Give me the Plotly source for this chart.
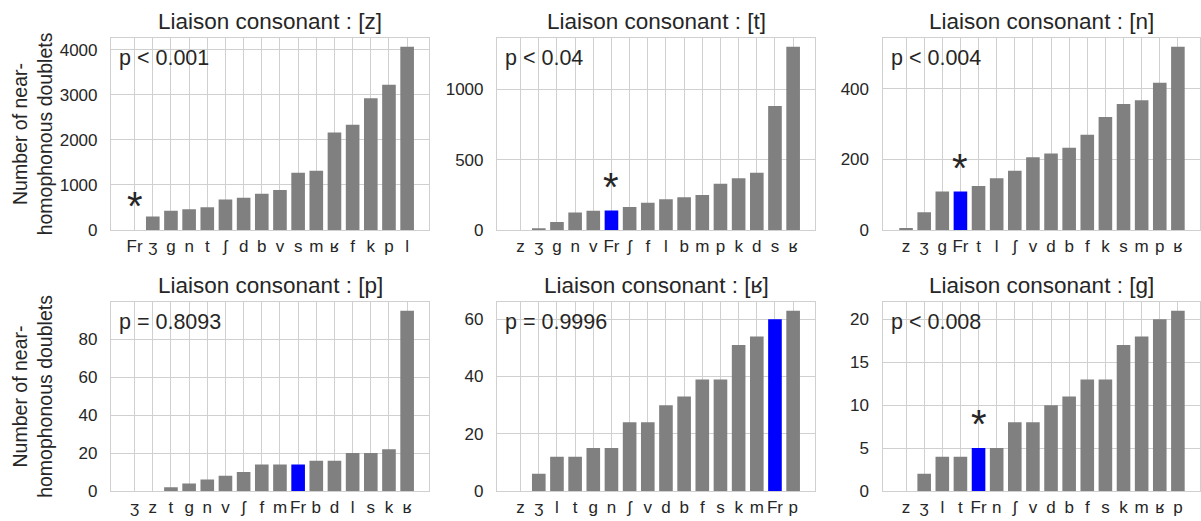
import plotly.graph_objects as go
from plotly.subplots import make_subplots

# ---------------- data ----------------
titles = ["Liaison consonant : [z]", "Liaison consonant : [t]", "Liaison consonant : [n]",
          "Liaison consonant : [p]", "Liaison consonant : [ʁ]", "Liaison consonant : [g]"]
pvals = ["p < 0.001", "p < 0.04", "p < 0.004", "p = 0.8093", "p = 0.9996", "p < 0.008"]
significant = [True, True, True, False, False, True]

cats_z = ["Fr", "ʒ", "g", "n", "t", "ʃ", "d", "b", "v", "s", "m", "ʁ", "f", "k", "p", "l"]
vals_z = [0, 300, 425, 463, 507, 679, 716, 806, 888, 1269, 1313, 2164, 2336, 2925, 3224, 4067]

cats_t = ["z", "ʒ", "g", "n", "v", "Fr", "ʃ", "f", "l", "b", "m", "p", "k", "d", "s", "ʁ"]
vals_t = [0, 12, 57, 124, 136, 138, 164, 193, 219, 233, 248, 329, 367, 407, 881, 1300]

cats_n = ["z", "ʒ", "g", "Fr", "t", "l", "ʃ", "v", "d", "b", "f", "k", "s", "m", "p", "ʁ"]
vals_n = [6, 50, 109, 109, 125, 147, 168, 206, 217, 233, 270, 320, 357, 368, 417, 519]

cats_p = ["ʒ", "z", "t", "g", "n", "v", "ʃ", "f", "m", "Fr", "b", "d", "l", "s", "k", "ʁ"]
vals_p = [0, 0, 2, 4, 6, 8, 10, 14, 14, 14, 16, 16, 20, 20, 22, 95]

cats_r = ["z", "ʒ", "l", "t", "g", "n", "ʃ", "v", "d", "b", "f", "s", "k", "m", "Fr", "p"]
vals_r = [0, 6, 12, 12, 15, 15, 24, 24, 30, 33, 39, 39, 51, 54, 60, 63]

cats_g = ["z", "ʒ", "l", "t", "Fr", "n", "ʃ", "v", "d", "b", "f", "s", "k", "m", "ʁ", "p"]
vals_g = [0, 2, 4, 4, 5, 5, 8, 8, 10, 11, 13, 13, 17, 18, 20, 21]

ytick_step = [1000, 500, 200, 20, 20, 5]

panels = [(cats_z, vals_z), (cats_t, vals_t), (cats_n, vals_n),
          (cats_p, vals_p), (cats_r, vals_r), (cats_g, vals_g)]

# ---------------- layout geometry (pixels) ----------------
W, H = 1201, 521
col_px = [(111.0, 429.3), (497.0, 815.3), (882.5, 1200.0)]
row_px = [(37.7, 230.0), (301.7, 491.0)]

GREY = "#808080"
BLUE = "#0000ff"
TXT = "#262626"
GRID = "#d0d0d0"
FONT = "Liberation Sans, Arial, sans-serif"

fig = make_subplots(rows=2, cols=3)

annotations = []
for i, (cats, vals) in enumerate(panels):
    r, c = divmod(i, 3)
    colors = [BLUE if k == "Fr" else GREY for k in cats]
    fig.add_trace(go.Bar(x=cats, y=vals, marker_color=colors, marker_line_width=0,
                         width=0.75, showlegend=False), row=r + 1, col=c + 1)
    ax = "" if i == 0 else str(i + 1)
    x0, x1 = col_px[c]
    y0, y1 = row_px[r]
    ymax = max(vals) * 1.05
    fig.update_layout(**{
        f"xaxis{ax}": dict(domain=[x0 / W, x1 / W], type="category", range=[-1.3, 16.22],
                          tickmode="linear", dtick=1, automargin=False,
                          showgrid=True, gridcolor=GRID, gridwidth=1.2, showline=True, mirror=True,
                          linecolor=GRID, linewidth=1.2, tickangle=0, ticks="",
                          ticklabelstandoff=0,
                          tickfont=dict(size=17, color=TXT, family=FONT), fixedrange=True),
        f"yaxis{ax}": dict(domain=[1 - y1 / H, 1 - y0 / H], range=[0, ymax], dtick=ytick_step[i],
                          tick0=0, showgrid=True, gridcolor=GRID, gridwidth=1.2, showline=True,
                          mirror=True, linecolor=GRID, linewidth=1.2, zeroline=False, ticks="",
                          ticklabelstandoff=9, automargin=False,
                          tickfont=dict(size=17, color=TXT, family=FONT), fixedrange=True),
    })
    xref = f"x{ax}"
    yref = f"y{ax}"
    # title
    annotations.append(dict(text=titles[i], xref="paper", yref="paper",
                            x=(x0 + x1) / 2 / W, y=1 - (y0 - 16) / H,
                            xanchor="center", yanchor="middle", showarrow=False,
                            font=dict(size=22.5, color=TXT, family=FONT)))
    # p-value
    annotations.append(dict(text=pvals[i], xref=f"{xref} domain", yref=f"{yref} domain",
                            x=0.0, xshift=6, y=1 - 20 / (y1 - y0), xanchor="left", yanchor="middle",
                            showarrow=False, font=dict(size=21.5, color=TXT, family=FONT)))
    # significance star
    if significant[i]:
        fi = cats.index("Fr")
        annotations.append(dict(text="*", xref=xref, yref=yref, x=cats[fi], y=vals[fi],
                                xanchor="center", yanchor="middle", yshift=24, showarrow=False,
                                font=dict(size=40, color=TXT, family=FONT)))

for r in range(2):
    y0, y1 = row_px[r]
    annotations.append(dict(text="Number of near-<br>homophonous doublets", xref="paper", yref="paper",
                            x=32.5 / W, y=1 - (y0 + y1) / 2 / H, xanchor="center", yanchor="middle",
                            textangle=-90, showarrow=False,
                            font=dict(size=19.5, color=TXT, family=FONT)))

fig.update_layout(width=W, height=H, margin=dict(l=0, r=0, t=0, b=0, autoexpand=False),
                  paper_bgcolor="white", plot_bgcolor="white", bargap=0.2,
                  annotations=annotations, font=dict(family=FONT, color=TXT))

fig.write_html("out.html", config={"displayModeBar": False},
               post_script="document.body.style.margin='0';")
